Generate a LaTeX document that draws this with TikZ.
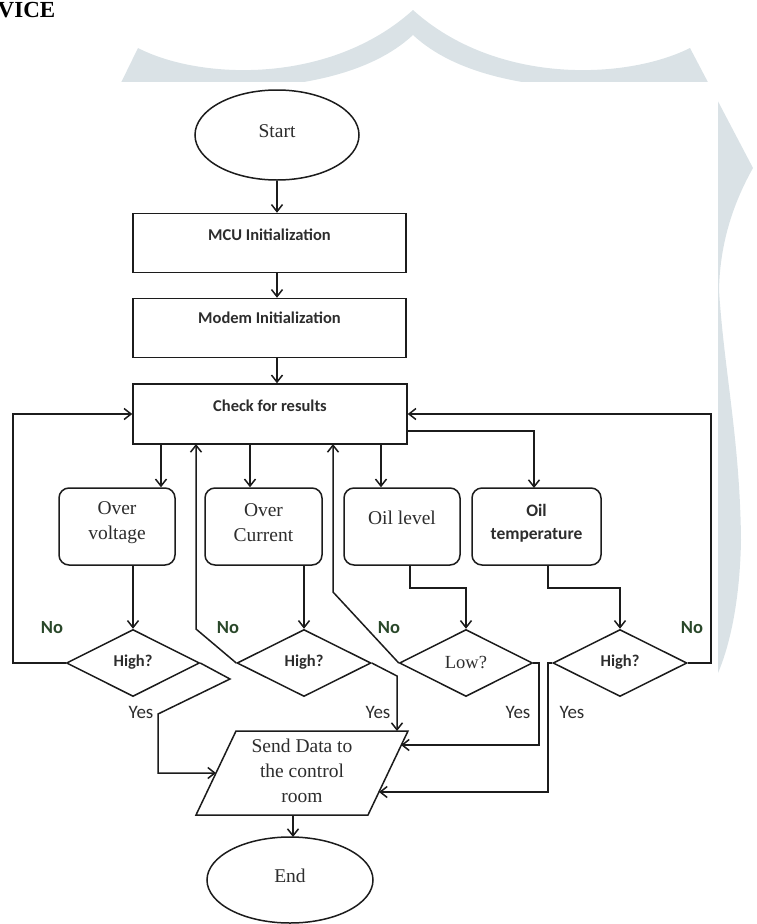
\documentclass[tikz,border=0pt]{standalone}
\usepackage{fontspec}
\setmainfont{Liberation Serif}
\newfontfamily\calib{Carlito}
\usetikzlibrary{shapes.geometric,arrows.meta}
\definecolor{wm}{RGB}{218,226,230}
\definecolor{nogreen}{RGB}{42,72,42}
\definecolor{ink}{RGB}{28,28,28}
\definecolor{txt}{RGB}{45,45,45}
\begin{document}
\begin{tikzpicture}[x=1pt,y=-1pt,line width=1.5pt,
  every node/.style={inner sep=0pt},
  arr/.style={draw=ink,-{Straight Barb[length=7pt,width=11pt]}},
  ln/.style={draw=ink},
  sbox/.style={draw=ink,rectangle,minimum width=273pt,minimum height=59pt},
  rbox/.style={draw=ink,rectangle,rounded corners=10pt,minimum height=77pt},
  dia/.style={draw=ink,diamond,minimum width=133pt,minimum height=67pt},
  oval/.style={draw=ink,ellipse},
  sanslab/.style={font=\calib\bfseries\fontsize{16.5}{19}\selectfont,text=txt},
  serlab/.style={font=\fontsize{19.5}{25}\selectfont,text=txt,align=center},
  nolab/.style={font=\calib\bfseries\fontsize{18.5}{21}\selectfont,text=nogreen},
  yeslab/.style={font=\calib\fontsize{19}{22}\selectfont,text=txt},
  qlab/.style={font=\calib\bfseries\fontsize{16.5}{19}\selectfont,text=txt}]
\useasboundingbox (0,0) rectangle (756,924);
% watermark
\fill[wm] (138,48) .. controls (200,80) and (330,85) .. (413,10)
  .. controls (496,85) and (626,80) .. (690,48) -- (753,168)
  .. controls (735,200) and (720,240) .. (719,290)
  .. controls (724,370) and (740,440) .. (741,540)
  .. controls (740,600) and (730,645) .. (718,673)
  -- (700,673) -- (700,88)
  -- (576,88) .. controls (526,85) and (456,75) .. (413,35)
  .. controls (370,75) and (300,85) .. (250,88) -- (115,95) -- cycle;
\fill[white] (0,82) rectangle (718,924);
% heading fragment
\node[anchor=base west,font=\bfseries\fontsize{23}{26}\selectfont] (head) at (-3,17) {VICE};
% main column
\node[oval,minimum width=164pt,minimum height=90pt] (start) at (277,135) {};
\node[serlab] (starttxt) at (277,131) {Start};
\node[sbox] (mcu) at (269.5,243) {};
\node[sanslab] (mcutxt) at (269.5,235) {MCU Initialization};
\node[sbox] (modem) at (269.5,328) {};
\node[sanslab] (modemtxt) at (269.5,318) {Modem Initialization};
\node[sbox,minimum width=274pt,minimum height=60pt] (check) at (270,414) {};
\node[sanslab] (checktxt) at (270,406) {Check for results};
\draw[arr] (start.south) -- (start.south |- mcu.north);
\draw[arr] (start.south |- mcu.south) -- (start.south |- modem.north);
\draw[arr] (start.south |- modem.south) -- (start.south |- check.north);
% sensor boxes
\node[rbox,minimum width=116pt] (ov) at (117,526.5) {};
\node[serlab] (ovtxt) at (117,523) {Over\\voltage};
\node[rbox,minimum width=117pt] (oc) at (263.5,526.5) {};
\node[serlab] (octxt) at (263.5,523) {Over\\Current};
\node[rbox,minimum width=116pt] (ol) at (402,526.5) {};
\node[serlab] (oltxt) at (402,518) {Oil level};
\node[rbox,minimum width=129pt] (ot) at (536.5,526.5) {};
\node[font=\calib\bfseries\fontsize{17.5}{23}\selectfont,text=txt,align=center] (ottxt) at (536.5,523) {Oil\\temperature};
\coordinate (c1) at (161,444);
\coordinate (c2) at (250,444);
\coordinate (c3) at (381,444);
\draw[arr] (c1) -- (c1 |- ov.north);
\draw[arr] (c2) -- (c2 |- oc.north);
\draw[arr] (c3) -- (c3 |- ol.north);
\coordinate (otr) at (407,431);
\draw[arr] (otr) -- (534,431) -- (534,488);
% decisions
\node[dia] (d1) at (133,663) {};
\node[qlab] (d1txt) at (133,662) {High?};
\node[dia,minimum width=134pt] (d2) at (304,663) {};
\node[qlab] (d2txt) at (304,662) {High?};
\node[dia] (d3) at (466,663) {};
\node[serlab,font=\fontsize{18.5}{22}\selectfont] (d3txt) at (466,662) {Low?};
\node[dia,minimum width=134pt] (d4) at (620,663) {};
\node[qlab] (d4txt) at (620,662) {High?};
\draw[arr] (133,565) -- (d1.north);
\draw[arr] (304,565) -- (d2.north);
\draw[arr] (410,565) -- (410,588) -- (466,588) -- (d3.north);
\draw[arr] (548,565) -- (548,588) -- (620,588) -- (d4.north);
% No loops
\draw[arr] (d1.west) -- (13,663) -- (13,414) -- (check.west);
\draw[arr] (d2.west) -- (196,629) -- (196,444);
\draw[arr] (d3.west) -- (333,592) -- (333,444);
\draw[arr] (d4.east) -- (711,663) -- (711,414) -- (check.east);
\node[nolab] (no1) at (52,628) {No};
\node[nolab] (no2) at (228,628) {No};
\node[nolab] (no3) at (389,628) {No};
\node[nolab] (no4) at (692,628) {No};
% output
\coordinate (pbl) at (196,815);
\coordinate (pbr) at (368,815);
\coordinate (ptr) at (408,731);
\coordinate (ptl) at (236,731);
\draw[ln] (pbl) -- (pbr) -- (ptr) -- (ptl) -- cycle;
\node[serlab] (send) at (302,771) {Send Data to\\the control\\room};
\coordinate (in1) at (216,773);
\coordinate (in2) at (397,731);
\coordinate (in3) at (401,745);
\coordinate (in4) at (379,792);
% Yes paths
\draw[arr] (d1.east) -- (230,679) -- (158,714) -- (158,773) -- (in1);
\draw[arr] (d2.east) -- (397,676) -- (in2);
\draw[arr] (d3.east) -- (539,663) -- (539,745) -- (in3);
\draw[arr] (d4.west) -- (548,663) -- (548,792) -- (in4);
\node[yeslab] (yes1) at (141,712) {Yes};
\node[yeslab] (yes2) at (378,712) {Yes};
\node[yeslab] (yes3) at (518,712) {Yes};
\node[yeslab] (yes4) at (572,712) {Yes};
% end
\node[oval,minimum width=166pt,minimum height=86pt] (end) at (290,880) {};
\node[serlab] (endtxt) at (290,876) {End};
\draw[arr] (293,815) -- (293,837);
\end{tikzpicture}
\end{document}
